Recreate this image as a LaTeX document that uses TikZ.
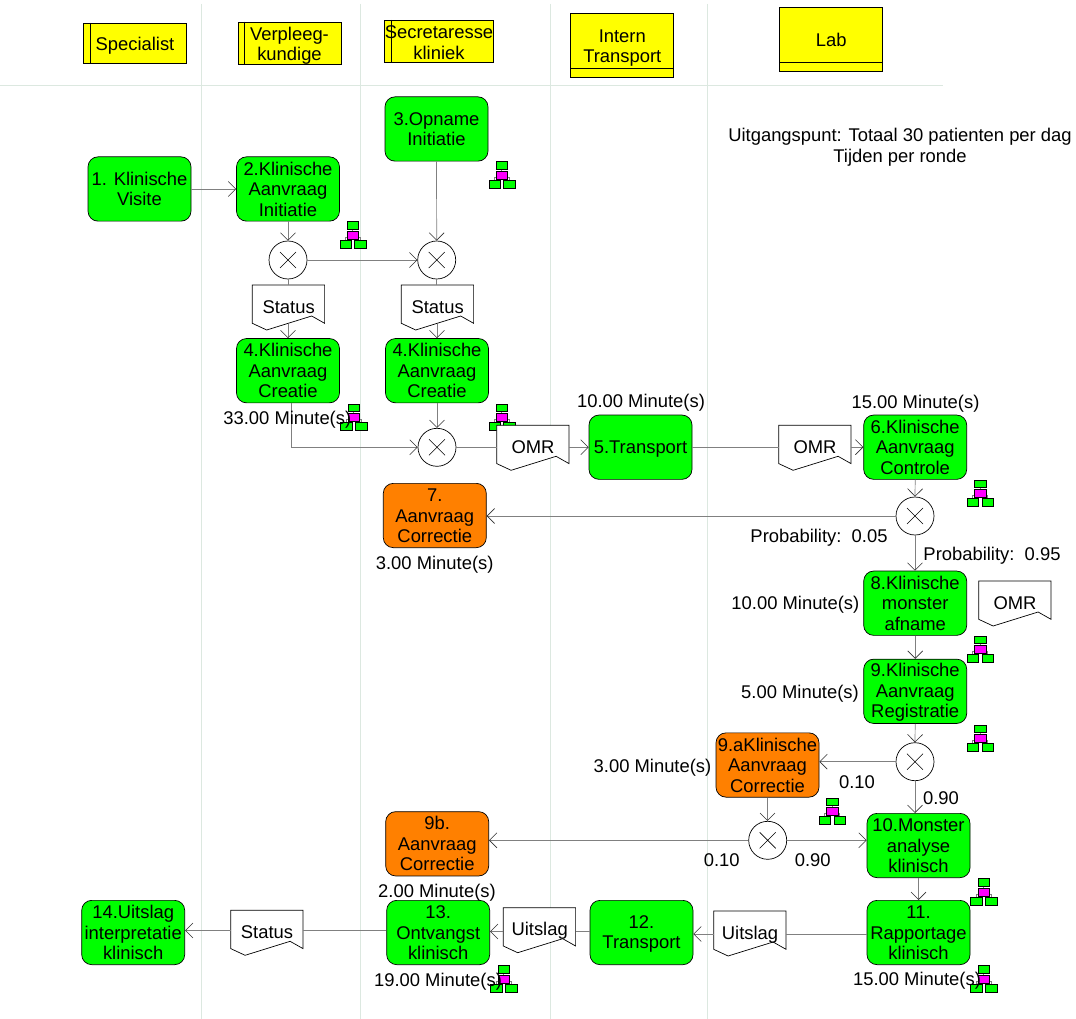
\documentclass[tikz,border=0pt]{standalone}
\usepackage{fontspec}
\setmainfont{Liberation Sans}
\usetikzlibrary{arrows.meta,calc}
\definecolor{gridc}{HTML}{DCE8E0}
\definecolor{linec}{HTML}{808080}
\definecolor{tipc}{HTML}{303030}
\definecolor{okgreen}{HTML}{00FF00}
\definecolor{orangebox}{HTML}{FF8000}
\definecolor{headyellow}{HTML}{FFFF00}
\definecolor{iconpink}{HTML}{FF00FF}
\newcommand{\lnstrut}{\rule[-3pt]{0pt}{21.2pt}}
\newcommand{\tkstrut}{\rule[-3pt]{0pt}{19.2pt}}
\tikzset{
  basefont/.style={font=\fontsize{18.4}{20.5}\selectfont,execute at begin node=\lnstrut,execute at end node=\lnstrut},
  taskbox/.style={basefont,draw=black,line width=0.7pt,rounded corners=10pt,minimum width=103pt,minimum height=64.3pt,inner sep=0pt,align=center,anchor=center},
  greenbox/.style={taskbox,fill=okgreen},
  orangetask/.style={taskbox,fill=orangebox},
  headbox/.style={basefont,draw=black,line width=0.7pt,fill=headyellow,minimum width=103pt,inner sep=0pt,align=center},
  gate/.style={draw=black,line width=0.7pt,fill=white,circle,minimum size=38pt,inner sep=0pt},
  lbl/.style={basefont,inner sep=0pt,align=center},
  docbox/.style={minimum width=72.3pt,minimum height=38.3pt,inner sep=0pt},
  conn/.style={draw=linec,line width=0.7pt},
  arr/.style={conn,-{Straight Barb[length=7.5pt,width=15pt,line width=0.6pt,color=tipc]}},
  gridline/.style={draw=gridc,line width=0.8pt},
}
% document symbol: name, left x, top y, text
\newcommand{\docsym}[4]{%
  \path[draw=black,line width=0.7pt,fill=white] (#2,#3) -- ++(72.3,0) -- ++(0,38.3) -- ++(-12.9,-7.3) -- ++(-45,14) -- ++(-14.4,-6.7) -- cycle;
  \node[docbox,anchor=north west] (#1) at (#2,#3) {};
  \node[lbl] (#1t) at ($(#1.center)+(0,1.5)$) {#4};
}
% resource icon: left x, top y
\newcommand{\resicon}[2]{%
  \begin{scope}[shift={(#1,#2)}]
    \draw[draw=gray,line width=1pt] (13.6,8) -- (13.6,14) (6,21) -- (6,16.5) -- (21,16.5) -- (21,21);
    \path[draw=black,line width=1pt,fill=okgreen] (8,0.7) rectangle (19.3,8);
    \path[draw=black,line width=1pt,fill=iconpink] (8,10) rectangle (19.3,18);
    \path[draw=black,line width=1pt,fill=okgreen] (0.7,19) rectangle (12,27);
    \path[draw=black,line width=1pt,fill=okgreen] (15.3,19) rectangle (27,27);
  \end{scope}%
}
\begin{document}
\begin{tikzpicture}[x=1pt,y=-1pt]
\useasboundingbox (0,0) rectangle (1076,1019);
\path[fill=white] (0,0) rectangle (1076,1019);
% swimlane grid
\coordinate (g1a) at (201,4); \coordinate (g1b) at (201,1019);
\coordinate (g2a) at (360.5,4); \coordinate (g2b) at (360.5,1019);
\coordinate (g3a) at (550,4); \coordinate (g3b) at (550,1019);
\coordinate (g4a) at (707,4); \coordinate (g4b) at (707,1019);
\coordinate (hl) at (0,85); \coordinate (hr) at (943,85);
\draw[gridline] (g1a)--(g1b) (g2a)--(g2b) (g3a)--(g3b) (g4a)--(g4b) (hl)--(hr);
% headers
\node[headbox,minimum height=40pt] (hSpec) at (135,43.3) {Specialist};
\draw[line width=0.7pt] ($(hSpec.north west)+(7,0)$) -- ($(hSpec.south west)+(7,0)$);
\node[headbox,minimum height=40pt] (hVerp) at (289.5,43.3) {\lnstrut Verpleeg-\\kundige};
\draw[line width=0.7pt] ($(hVerp.north west)+(7,0)$) -- ($(hVerp.south west)+(7,0)$);
\node[headbox,minimum height=40pt] (hSec) at (439,41.2) {\lnstrut Secretaresse\\kliniek};
\draw[line width=0.7pt] ($(hSec.north west)+(7,0)$) -- ($(hSec.south west)+(7,0)$);
\node[headbox,minimum height=64.4pt] (hTrans) at (622.3,45.5) {\lnstrut Intern\\Transport};
\draw[line width=0.7pt] ($(hTrans.south west)+(0,-9.3)$) -- ($(hTrans.south east)+(0,-9.3)$);
\node[headbox,minimum height=64.4pt] (hLab) at (831.3,39.5) {\raisebox{1pt}{Lab}};
\draw[line width=0.7pt] ($(hLab.south west)+(0,-9.3)$) -- ($(hLab.south east)+(0,-9.3)$);
% icons
\resicon{488.3}{161.3}
\resicon{339.3}{221.3}
\resicon{340}{403.3}
\resicon{488.3}{403.3}
\resicon{966.7}{479.3}
\resicon{966.7}{635.3}
\resicon{966.7}{724.3}
\resicon{818.7}{797.3}
\resicon{970}{878}
\resicon{970}{965}
\resicon{490}{965}
% tasks
\node[greenbox] (t1) at (139.5,189) {\tkstrut 1. Klinische\\Visite};
\node[greenbox] (t2) at (288,189) {\tkstrut 2.Klinische\\Aanvraag\\Initiatie};
\node[greenbox] (t3) at (436.5,129) {\tkstrut 3.Opname\\Initiatie};
\node[greenbox] (t4a) at (288,370.7) {\tkstrut 4.Klinische\\Aanvraag\\Creatie};
\node[greenbox] (t4b) at (437,370.7) {\tkstrut 4.Klinische\\Aanvraag\\Creatie};
\node[orangetask] (t7) at (434.8,515.5) {\tkstrut 7.\\Aanvraag\\Correctie};
\node[greenbox] (t5) at (640.5,447.2) {\raisebox{1pt}{5.Transport}};
\node[greenbox] (t6) at (915.2,447.2) {\tkstrut 6.Klinische\\Aanvraag\\Controle};
\node[greenbox] (t8) at (915.2,603.2) {\tkstrut 8.Klinische\\monster\\afname};
\node[greenbox] (t9) at (915.2,691.3) {\tkstrut 9.Klinische\\Aanvraag\\Registratie};
\node[orangetask] (t9a) at (767.5,765) {\tkstrut 9.aKlinische\\Aanvraag\\Correctie};
\node[greenbox] (t10) at (918.5,845.5) {\tkstrut 10.Monster\\analyse\\klinisch};
\node[greenbox] (t11) at (918.5,932.5) {\tkstrut 11.\\Rapportage\\klinisch};
\node[orangetask] (t9b) at (437.2,843.8) {\tkstrut 9b.\\Aanvraag\\Correctie};
\node[greenbox] (t12) at (641.5,932.5) {\tkstrut 12.\\Transport};
\node[greenbox] (t13) at (438.2,932.5) {\tkstrut 13.\\Ontvangst\\klinisch};
\node[greenbox] (t14) at (133.2,932.5) {\tkstrut 14.Uitslag\\interpretatie\\klinisch};
% gateways
\node[gate] (g1) at (288,260) {};
\node[gate] (g2) at (436.7,260) {};
\node[gate] (g3) at (437,447.3) {};
\node[gate] (g4) at (915,516) {};
\node[gate] (g5) at (915,761.7) {};
\node[gate] (g6) at (767.7,840.3) {};
\foreach \g in {g1,g2,g3,g4,g5,g6}{
  \draw[line width=0.6pt] ($(\g)+(-8,-8)$) -- ($(\g)+(8,8)$) ($(\g)+(-8,8)$) -- ($(\g)+(8,-8)$);
}
% documents
\docsym{dS1}{252.3}{285}{Status}
\docsym{dS2}{401.3}{285}{Status}
\docsym{dO1}{496.7}{425.3}{OMR}
\docsym{dO2}{778.7}{425.3}{OMR}
\docsym{dO3}{978.7}{581}{OMR}
\docsym{dU1}{713.7}{911}{Uitslag}
\docsym{dU2}{503.3}{907.7}{Uitslag}
\docsym{dS3}{230.7}{910.3}{Status}
% connectors
\draw[arr] (t1.east) -- (t2.west);
\draw[arr] (t2.south) -- (g1.north);
\draw[arr] (t3.south) -- (g2.north);
\draw[arr] (g1.east) -- (g2.west);
\draw[conn] (g1.south) -- (g1.south |- dS1.north);
\draw[conn] (g2.south) -- (g2.south |- dS2.north);
\draw[arr] (t4a.north |- dS1.south) -- (t4a.north);
\draw[arr] (t4b.north |- dS2.south) -- (t4b.north);
\draw[arr] ($(t4a.south)+(3.3,0)$) |- (g3.west);
\draw[arr] (t4b.south) -- (g3.north);
\draw[conn] (g3.east) -- (dO1.west |- g3.east);
\draw[arr] (dO1.east |- t5.west) -- (t5.west);
\draw[conn] (t5.east) -- (dO2.west |- t5.east);
\draw[arr] (dO2.east |- t6.west) -- (t6.west);
\draw[arr] (t6.south) -- (g4.north);
\draw[arr] (g4.west) -- (t7.east |- g4.west);
\draw[arr] (g4.south) -- (g4.south |- t8.north);
\draw[arr] (t8.south) -- (t9.north);
\draw[arr] (t9.south) -- (g5.north);
\draw[arr] (g5.west) -- (t9a.east |- g5.west);
\draw[arr] (g5.south) -- (g5.south |- t10.north);
\draw[arr] (t9a.south) -- (t9a.south |- g6.north);
\draw[arr] (g6.west) -- (t9b.east |- g6.west);
\draw[arr] (g6.east) -- (t10.west |- g6.east);
\draw[arr] (t10.south) -- (t11.north);
\coordinate (y11) at ($(t11.west)+(0,1.5)$);
\coordinate (y12) at ($(t12.west)+(0,-1)$);
\coordinate (y13) at ($(t13.west)+(0,-2)$);
\draw[conn] (y11) -- (dU1.east |- y11);
\draw[arr] (dU1.west |- y11) -- (t12.east |- y11);
\draw[conn] (y12) -- (dU2.east |- y12);
\draw[arr] (dU2.west |- y12) -- (t13.east |- y12);
\draw[conn] (y13) -- (dS3.east |- y13);
\draw[arr] (dS3.west |- y13) -- (t14.east |- y13);
% labels
\node[lbl] (m1) at (287.3,417) {33.00 Minute(s)};
\node[lbl] (m2) at (641,400) {10.00 Minute(s)};
\node[lbl] (m3) at (915.5,401) {15.00 Minute(s)};
\node[lbl] (m4) at (434.7,562) {3.00 Minute(s)};
\node[lbl] (p1) at (819,535) {Probability:\ \ 0.05};
\node[lbl] (p2) at (992,553) {Probability:\ \ 0.95};
\node[lbl] (m5) at (795.4,602) {10.00 Minute(s)};
\node[lbl] (m6) at (800,691.7) {5.00 Minute(s)};
\node[lbl] (m7) at (652.5,765) {3.00 Minute(s)};
\node[lbl] (n1) at (857,780.7) {0.10};
\node[lbl] (n2) at (941,797) {0.90};
\node[lbl] (n3) at (721.7,859) {0.10};
\node[lbl] (n4) at (812.7,859) {0.90};
\node[lbl] (m8) at (437,890.7) {2.00 Minute(s)};
\node[lbl] (m9) at (438,979) {19.00 Minute(s)};
\node[lbl] (m10) at (917,978.3) {15.00 Minute(s)};
\node[lbl] (note) at (900,146) {\tkstrut Uitgangspunt: Totaal 30 patienten per dag\\Tijden per ronde};
\end{tikzpicture}
\end{document}
